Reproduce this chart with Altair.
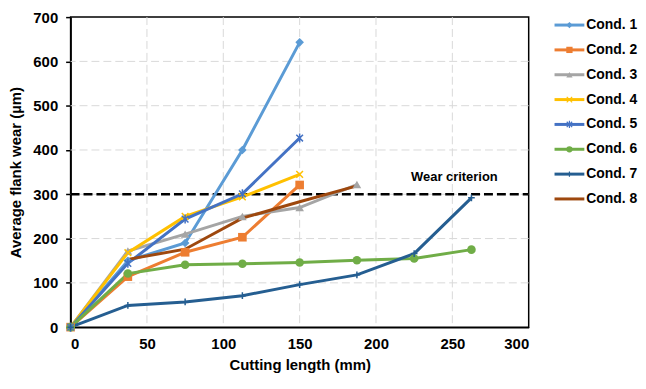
import altair as alt
import pandas as pd

# ---------------- data ----------------
cutting_length = [0, 37.5, 75, 112.5, 150, 187.5, 225, 262.5]
cond_names = ["Cond. 1", "Cond. 2", "Cond. 3", "Cond. 4", "Cond. 5", "Cond. 6", "Cond. 7", "Cond. 8"]
cond1 = [0, 150, 190, 400, 643]
cond2 = [0, 114, 169, 203, 321]
cond3 = [0, 172, 210, 250, 270, 322]
cond4 = [0, 168, 250, 294, 345]
cond5 = [0, 144, 244, 301, 427]
cond6 = [0, 121, 141, 143, 146, 151, 155, 175]
cond7 = [0, 49, 57, 71, 96, 118, 166, 292]
cond8 = [None, 153, 176, 246, 283, 319]
series = [cond1, cond2, cond3, cond4, cond5, cond6, cond7, cond8]

colors = ["#5B9BD5", "#ED7D31", "#A5A5A5", "#FFC000", "#4472C4", "#70AD47", "#255E91", "#9E480E"]
X_PATH = "M-1,-1L1,1M-1,1L1,-1"
STAR_PATH = "M-1,-1L1,1M-1,1L1,-1M0,-1.35L0,1.35"
PLUS_PATH = "M-1,0L1,0M0,-1L0,1"
shapes = ["diamond", "square", "triangle-up", X_PATH, STAR_PATH, "circle", PLUS_PATH, "circle"]
filled_conds = ["Cond. 1", "Cond. 2", "Cond. 3", "Cond. 6"]
stroked_conds = ["Cond. 4", "Cond. 5", "Cond. 7"]

wear_criterion = 300
wear_label = "Wear criterion"
wear_label_pos = (223, 338)

x_ticks = [0, 50, 100, 150, 200, 250, 300]
y_ticks = [0, 100, 200, 300, 400, 500, 600, 700]

# ---------------- tables ----------------
rows = []
for name, vals in zip(cond_names, series):
    for i, v in enumerate(vals):
        if v is not None:
            rows.append({"cond": name, "order": i, "length": cutting_length[i], "wear": v})
df = pd.DataFrame(rows)

color_scale = alt.Scale(domain=cond_names, range=colors)
shape_scale = alt.Scale(domain=cond_names, range=shapes)
FONT = "Liberation Sans"

x_enc = alt.X("length:Q", scale=alt.Scale(domain=[0, 300], nice=False),
              axis=alt.Axis(values=x_ticks, title="Cutting length (mm)", ticks=False,
                            labelPadding=9, titlePadding=7))
y_enc = alt.Y("wear:Q", scale=alt.Scale(domain=[0, 700], nice=False),
              axis=alt.Axis(values=y_ticks, title="Average flank wear (µm)", tickSize=5,
                            labelPadding=8, titlePadding=9))

base = alt.Chart(df)
grid_x = alt.Chart(pd.DataFrame({"v": x_ticks[1:-1]})).mark_rule(
    color="#D9D9D9", strokeDash=[8, 4], strokeWidth=1).encode(x=alt.X("v:Q"))
grid_y = alt.Chart(pd.DataFrame({"v": y_ticks[1:-1]})).mark_rule(
    color="#D9D9D9", strokeDash=[8, 4], strokeWidth=1).encode(y=alt.Y("v:Q"))

lines = base.mark_line(strokeWidth=3).encode(
    x=x_enc, y=y_enc, order="order:Q",
    color=alt.Color("cond:N", scale=color_scale, legend=None),
    detail="cond:N")

pts_filled = base.transform_filter(
    alt.FieldOneOfPredicate(field="cond", oneOf=filled_conds)
).mark_point(filled=True, opacity=1, size=75).encode(
    x="length:Q", y="wear:Q",
    color=alt.Color("cond:N", scale=color_scale, legend=None),
    shape=alt.Shape("cond:N", scale=shape_scale, legend=None))

pts_stroked = base.transform_filter(
    alt.FieldOneOfPredicate(field="cond", oneOf=stroked_conds)
).mark_point(filled=False, opacity=1, size=45, strokeWidth=1.5).encode(
    x="length:Q", y="wear:Q",
    color=alt.Color("cond:N", scale=color_scale, legend=None),
    shape=alt.Shape("cond:N", scale=shape_scale, legend=None))

wear_df = pd.DataFrame({"x0": [0], "x1": [300], "y": [wear_criterion]})
wear_line = alt.Chart(wear_df).mark_rule(color="black", strokeDash=[9, 4], strokeWidth=2.5).encode(
    x="x0:Q", x2="x1:Q", y="y:Q")
wear_text = alt.Chart(pd.DataFrame({"x": [wear_label_pos[0]], "y": [wear_label_pos[1]], "t": [wear_label]})).mark_text(
    align="left", baseline="middle", font=FONT, fontSize=13, fontWeight="bold", color="black").encode(
    x="x:Q", y="y:Q", text="t:N")

main = alt.layer(grid_x, grid_y, wear_line, lines, pts_filled, pts_stroked, wear_text).properties(
    width=461, height=312)

# ---------------- legend ----------------
leg = pd.DataFrame({"cond": cond_names, "idx": list(range(len(cond_names)))})
leg["x0"] = 0
leg["x1"] = 30
leg["xm"] = 15
leg["xt"] = 32
leg_x = alt.Scale(domain=[0, 84], range=[0, 84])
leg_y = alt.Scale(domain=[0, 7], range=[8, 183])
lbase = alt.Chart(leg)
l_rule = lbase.mark_rule(strokeWidth=3).encode(
    x=alt.X("x0:Q", scale=leg_x, axis=None), x2="x1:Q",
    y=alt.Y("idx:Q", scale=leg_y, axis=None),
    color=alt.Color("cond:N", scale=color_scale, legend=None))
l_filled = lbase.transform_filter(
    alt.FieldOneOfPredicate(field="cond", oneOf=filled_conds)
).mark_point(filled=True, opacity=1, size=40).encode(
    x=alt.X("xm:Q", scale=leg_x, axis=None), y=alt.Y("idx:Q", scale=leg_y, axis=None),
    color=alt.Color("cond:N", scale=color_scale, legend=None),
    shape=alt.Shape("cond:N", scale=shape_scale, legend=None))
l_stroked = lbase.transform_filter(
    alt.FieldOneOfPredicate(field="cond", oneOf=stroked_conds)
).mark_point(filled=False, opacity=1, size=30, strokeWidth=1.2).encode(
    x=alt.X("xm:Q", scale=leg_x, axis=None), y=alt.Y("idx:Q", scale=leg_y, axis=None),
    color=alt.Color("cond:N", scale=color_scale, legend=None),
    shape=alt.Shape("cond:N", scale=shape_scale, legend=None))
l_text = lbase.mark_text(align="left", baseline="middle", font=FONT, fontSize=14,
                         fontWeight="bold", color="black").encode(
    x=alt.X("xt:Q", scale=leg_x, axis=None), y=alt.Y("idx:Q", scale=leg_y, axis=None),
    text="cond:N")
legend = alt.layer(l_rule, l_filled, l_stroked, l_text).properties(
    width=84, height=200, view=alt.ViewConfig(stroke=None))

chart = alt.hconcat(main, legend, spacing=22).properties(
    padding={"left": 0, "top": 0, "right": 0, "bottom": 0}
).configure(background="white").configure_view(stroke="black", strokeWidth=1.5).configure_axis(
    grid=False, domainColor="black", domainWidth=1.5, tickColor="black", tickWidth=1.5,
    labelFont=FONT, labelFontSize=15, labelFontWeight="bold", labelColor="black",
    titleFont=FONT, titleFontSize=15, titleFontWeight="bold", titleColor="black"
)

chart.save("out.html", embed_options={"renderer": "svg", "actions": False})
